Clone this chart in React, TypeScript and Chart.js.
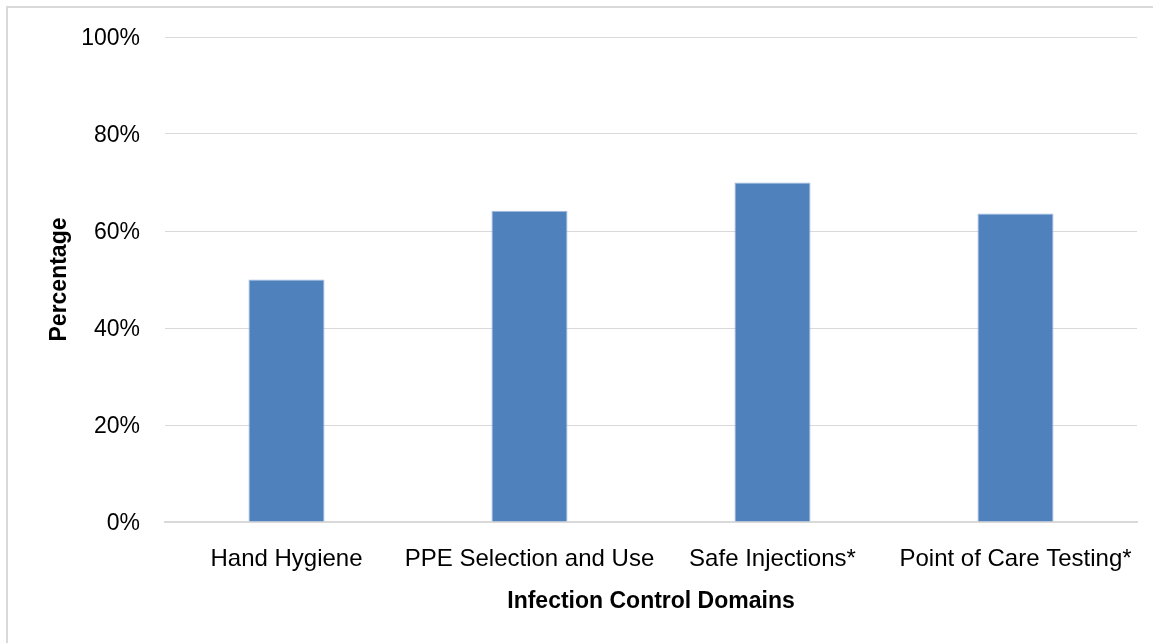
import React, { useEffect, useRef } from "react";
import { Chart, registerables } from "chart.js";

Chart.register(...registerables);

const categories = ["Hand Hygiene", "PPE Selection and Use", "Safe Injections*", "Point of Care Testing*"];
const percentages = [50, 64.2, 70, 63.6];
const yTicks = [0, 20, 40, 60, 80, 100];
const xTitle = "Infection Control Domains";
const yTitle = "Percentage";

const FONT = "'Liberation Sans', Arial, sans-serif";

const yLabelPlugin = {
  id: "yLabels",
  afterDraw(chart: any) {
    const scale = chart.scales.y;
    const ctx = chart.ctx;
    ctx.save();
    ctx.font = `23px ${FONT}`;
    ctx.fillStyle = "#000000";
    ctx.textAlign = "right";
    ctx.textBaseline = "middle";
    for (const v of yTicks) {
      const y = scale.getPixelForValue(v);
      ctx.fillText(`${v}%`, scale.right - 25, y + 2);
    }
    ctx.restore();
  },
};

export default function App() {
  const ref = useRef<HTMLCanvasElement | null>(null);

  useEffect(() => {
    if (!ref.current) return;
    const chart = new Chart(ref.current, {
      type: "bar",
      data: {
        labels: categories,
        datasets: [
          {
            data: percentages,
            backgroundColor: "#4f81bd",
            borderColor: "#a4bddf",
            borderWidth: 1,
            borderSkipped: "bottom",
            categoryPercentage: 1,
            barPercentage: 0.313,
          },
        ],
      },
      plugins: [yLabelPlugin],
      options: {
        responsive: false,
        animation: false,
        layout: { padding: { top: 29, left: 0, right: 16, bottom: 0 } },
        plugins: { legend: { display: false }, tooltip: { enabled: false } },
        scales: {
          x: {
            grid: { display: false, drawTicks: false, tickLength: 0 },
            border: { display: true, color: "#d9d9d9", width: 2 },
            ticks: {
              color: "#000000",
              font: { family: FONT, size: 24 },
              padding: 23,
              maxRotation: 0,
              autoSkip: false,
            },
            title: {
              display: true,
              text: xTitle,
              color: "#000000",
              font: { family: FONT, size: 23, weight: "bold" },
              padding: { top: 0, bottom: 28 },
            },
            afterFit: (scale: any) => {
              scale.height = 121;
              scale.paddingLeft = 0;
              scale.paddingRight = 0;
            },
          },
          y: {
            min: 0,
            max: 100,
            afterBuildTicks: (scale: any) => {
              scale.ticks = yTicks.map((v) => ({ value: v }));
            },
            grid: { color: "#d9d9d9", lineWidth: 1, drawTicks: false, tickLength: 0 },
            border: { display: false },
            ticks: {
              display: false,
            },
            title: {
              display: true,
              text: yTitle,
              color: "#000000",
              font: { family: FONT, size: 23, weight: "bold" },
              padding: { top: 38, bottom: 0 },
            },
            afterFit: (scale: any) => {
              scale.width = 157;
              scale.paddingTop = 0;
              scale.paddingBottom = 0;
            },
          },
        },
      },
    });
    return () => chart.destroy();
  }, []);

  return (
    <div
      style={{
        position: "fixed",
        left: 6,
        top: 6,
        width: 1200,
        height: 700,
        border: "2px solid #d9d9d9",
        background: "#ffffff",
      }}
    >
      <canvas ref={ref} width={1145} height={635} style={{ display: "block", width: 1145, height: 635 }} />
    </div>
  );
}
